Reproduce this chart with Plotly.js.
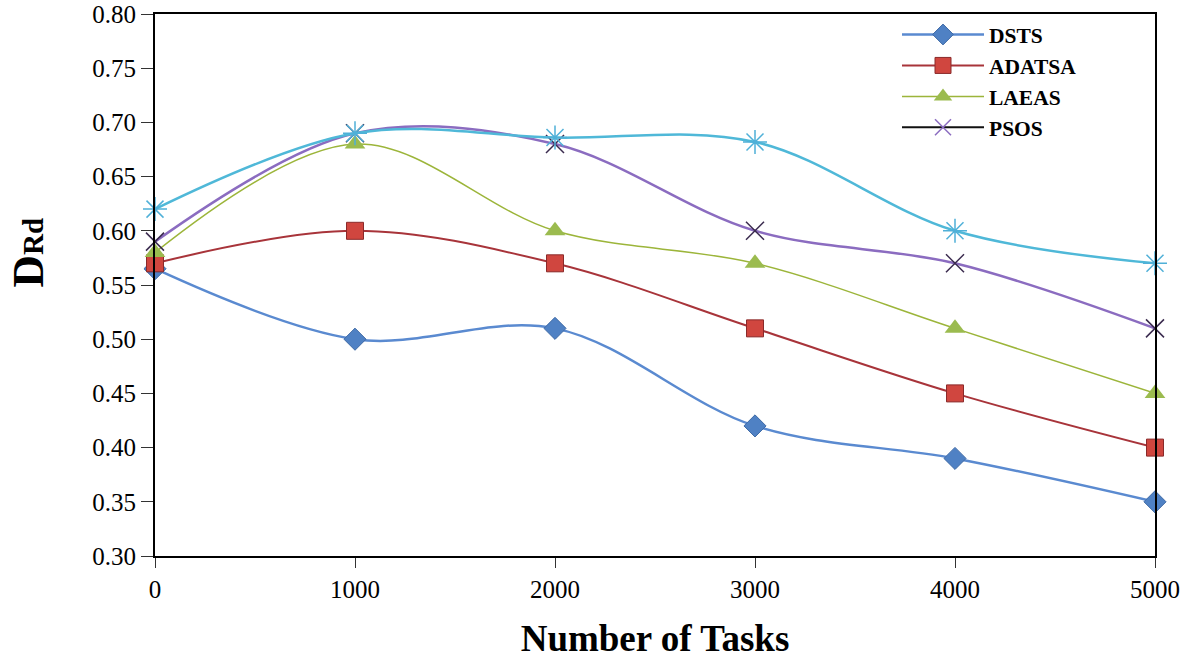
<!DOCTYPE html>
<html>
<head>
<meta charset="utf-8">
<script src="https://cdn.plot.ly/plotly-3.0.1.min.js"></script>
<style>html,body{margin:0;padding:0;background:#fff;}#chart{width:1184px;height:659px;}</style>
</head>
<body>
<div id="chart"></div>
<script>
var tasks = [0, 1000, 2000, 3000, 4000, 5000];
var dsts = [0.565, 0.50, 0.51, 0.42, 0.39, 0.35];
var adatsa = [0.57, 0.60, 0.57, 0.51, 0.45, 0.40];
var laeas = [0.58, 0.68, 0.60, 0.57, 0.51, 0.45];
var psos = [0.59, 0.69, 0.68, 0.60, 0.57, 0.51];
var fifth = [0.62, 0.69, 0.686, 0.682, 0.60, 0.57];
var xTicks = [0, 1000, 2000, 3000, 4000, 5000];
var yTicks = [0.30, 0.35, 0.40, 0.45, 0.50, 0.55, 0.60, 0.65, 0.70, 0.75, 0.80];
var yTickText = yTicks.map(function(v){return v.toFixed(2);});

var serif = 'Liberation Serif';

var traces = [
  {x: tasks, y: dsts, name: 'DSTS', mode: 'lines+markers', cliponaxis: false,
   line: {color: '#5a8ad0', width: 2.5, shape: 'spline', smoothing: 1},
   marker: {symbol: 'diamond', size: 17, color: '#4f81c4', line: {color: '#3f6aa6', width: 1}}},
  {x: tasks, y: adatsa, name: 'ADATSA', mode: 'lines+markers', cliponaxis: false,
   line: {color: '#a8343a', width: 2, shape: 'spline', smoothing: 1},
   marker: {symbol: 'square', size: 17, color: '#d0463f', line: {color: '#8a2a2a', width: 1}}},
  {x: tasks, y: laeas, name: 'LAEAS', mode: 'lines+markers', cliponaxis: false,
   line: {color: '#9cb53a', width: 1.5, shape: 'spline', smoothing: 1},
   marker: {symbol: 'triangle-up', size: 18, color: '#9bbb4f', line: {color: '#9bbb4f', width: 0}}},
  {x: tasks, y: psos, name: 'PSOS', mode: 'lines+markers', cliponaxis: false, showlegend: false,
   line: {color: '#8b6cc0', width: 2.5, shape: 'spline', smoothing: 1},
   marker: {symbol: 'x-thin-open', size: 18, color: '#3a2a4e', line: {color: '#3a2a4e', width: 1.5}}},
  {x: [null], y: [null], name: 'PSOS', mode: 'lines+markers',
   line: {color: '#111111', width: 2},
   marker: {symbol: 'x-thin-open', size: 18, color: '#8b6cc0', line: {color: '#8b6cc0', width: 1.5}}},
  {x: tasks, y: fifth, name: '', mode: 'lines+markers', cliponaxis: false, showlegend: false,
   line: {color: '#4fb8d8', width: 2.5, shape: 'spline', smoothing: 1},
   marker: {symbol: 'asterisk-open', size: 20, color: '#4fb0d8', line: {color: '#4fb0d8', width: 1.5}}}
];

var layout = {
  width: 1184, height: 659,
  margin: {l: 155, r: 29, t: 14, b: 103},
  paper_bgcolor: '#ffffff', plot_bgcolor: '#ffffff',
  showlegend: true,
  legend: {x: 0.742, y: 1.0, xanchor: 'left', yanchor: 'top', bgcolor: 'rgba(0,0,0,0)',
           font: {family: serif, size: 21.5, color: '#000', weight: 'bold'}, itemwidth: 82, tracegroupgap: 0},
  xaxis: {range: [0, 5000], tickvals: xTicks, ticktext: xTicks.map(String),
          showgrid: false, zeroline: false, showline: true, linecolor: '#000', linewidth: 2, mirror: true,
          ticks: 'outside', ticklen: 10, tickcolor: '#333', tickwidth: 1,
          tickfont: {family: serif, size: 25, color: '#000'},
          title: {text: 'Number of Tasks', font: {family: serif, size: 37, color: '#000', weight: 'bold'}, standoff: 26}},
  yaxis: {range: [0.30, 0.80], tickvals: yTicks, ticktext: yTickText,
          showgrid: false, zeroline: false, showline: true, linecolor: '#000', linewidth: 2, mirror: true,
          ticks: 'outside', ticklen: 12, tickcolor: '#333', tickwidth: 1,
          tickfont: {family: serif, size: 25, color: '#000'}},
  annotations: [{
    xref: 'paper', yref: 'paper', x: -0.127, y: 0.56, xanchor: 'center', yanchor: 'middle',
    textangle: -90, showarrow: false,
    text: '<b>D<span style="font-size:29px">Rd</span></b>',
    font: {family: serif, size: 45, color: '#000'}
  }]
};

Plotly.newPlot('chart', traces, layout, {displayModeBar: false, staticPlot: true});
</script>
</body>
</html>
